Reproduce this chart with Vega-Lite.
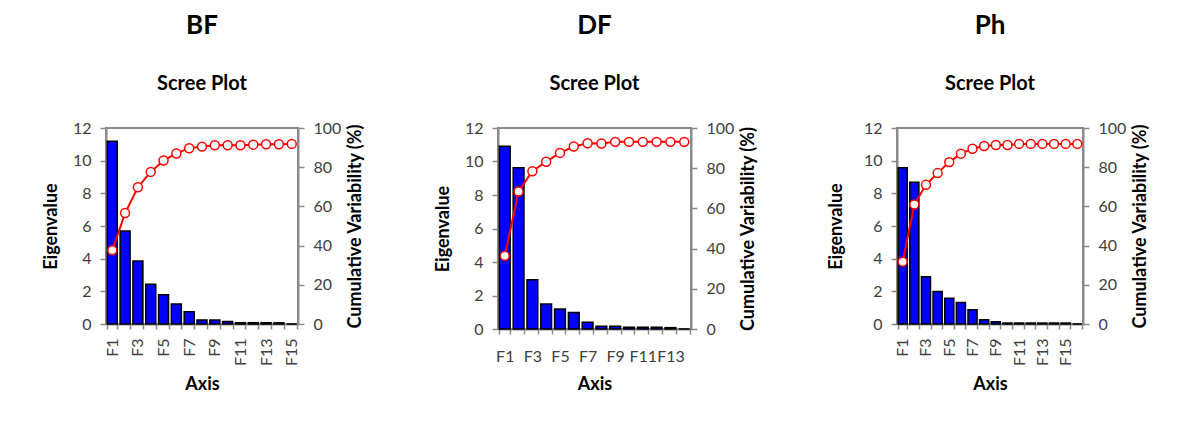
{
  "$schema": "https://vega.github.io/schema/vega-lite/v6.json",
  "background": "white",
  "padding": {"left": 41, "top": 12, "right": 5, "bottom": 5},
  "spacing": 67,
  "hconcat": [
    {
      "title": {"text": "BF", "subtitle": "Scree Plot"},
      "width": 192,
      "height": 196,
      "data": {"values": [
        {"axis": "F1", "eigenvalue": 11.19, "cumulative": 37.6},
        {"axis": "F2", "eigenvalue": 5.69, "cumulative": 56.6},
        {"axis": "F3", "eigenvalue": 3.86, "cumulative": 69.8},
        {"axis": "F4", "eigenvalue": 2.44, "cumulative": 77.6},
        {"axis": "F5", "eigenvalue": 1.79, "cumulative": 83.4},
        {"axis": "F6", "eigenvalue": 1.22, "cumulative": 87.0},
        {"axis": "F7", "eigenvalue": 0.75, "cumulative": 89.7},
        {"axis": "F8", "eigenvalue": 0.24, "cumulative": 90.5},
        {"axis": "F9", "eigenvalue": 0.24, "cumulative": 91.2},
        {"axis": "F10", "eigenvalue": 0.16, "cumulative": 91.2},
        {"axis": "F11", "eigenvalue": 0.08, "cumulative": 91.2},
        {"axis": "F12", "eigenvalue": 0.08, "cumulative": 91.5},
        {"axis": "F13", "eigenvalue": 0.08, "cumulative": 91.7},
        {"axis": "F14", "eigenvalue": 0.07, "cumulative": 91.7},
        {"axis": "F15", "eigenvalue": 0.0, "cumulative": 91.9}
      ]},
      "layer": [
        {
          "mark": {"type": "bar", "fill": "#0000FF", "stroke": "#000000", "strokeWidth": 1.5},
          "encoding": {
            "x": {"field": "axis", "type": "ordinal", "sort": null, "scale": {"paddingInner": 0.22, "paddingOuter": 0.1},
                  "axis": {"title": "Axis", "labelAngle": -90, "labelAlign": "right", "labelBaseline": "middle", "labelPadding": 9, "titlePadding": 10,
                           "labelExpr": "indexof(['F1','F3','F5','F7','F9','F11','F13','F15'], datum.value) >= 0 ? datum.value : ''"}},
            "y": {"field": "eigenvalue", "type": "quantitative", "scale": {"domain": [0, 12]},
                  "axis": {"title": "Eigenvalue", "values": [0, 2, 4, 6, 8, 10, 12]}}
          }
        },
        {
          "mark": {"type": "line", "color": "#FF0000", "strokeWidth": 2,
                   "point": {"filled": false, "fill": "white", "stroke": "#FF0000", "strokeWidth": 1.5, "size": 80}},
          "encoding": {
            "x": {"field": "axis", "type": "ordinal", "sort": null},
            "y": {"field": "cumulative", "type": "quantitative", "scale": {"domain": [0, 100]},
                  "axis": {"orient": "right", "title": "Cumulative Variability (%)", "titleAngle": 270, "titlePadding": 24, "values": [0, 20, 40, 60, 80, 100]}}
          }
        }
      ],
      "resolve": {"scale": {"y": "independent"}}
    },
    {
      "title": {"text": "DF", "subtitle": "Scree Plot"},
      "width": 193,
      "height": 201,
      "data": {"values": [
        {"axis": "F1", "eigenvalue": 10.91, "cumulative": 36.4},
        {"axis": "F2", "eigenvalue": 9.62, "cumulative": 68.4},
        {"axis": "F3", "eigenvalue": 2.94, "cumulative": 78.5},
        {"axis": "F4", "eigenvalue": 1.49, "cumulative": 83.2},
        {"axis": "F5", "eigenvalue": 1.19, "cumulative": 87.6},
        {"axis": "F6", "eigenvalue": 0.99, "cumulative": 90.8},
        {"axis": "F7", "eigenvalue": 0.40, "cumulative": 92.4},
        {"axis": "F8", "eigenvalue": 0.16, "cumulative": 92.3},
        {"axis": "F9", "eigenvalue": 0.16, "cumulative": 93.1},
        {"axis": "F10", "eigenvalue": 0.1, "cumulative": 93.1},
        {"axis": "F11", "eigenvalue": 0.1, "cumulative": 93.1},
        {"axis": "F12", "eigenvalue": 0.1, "cumulative": 93.1},
        {"axis": "F13", "eigenvalue": 0.08, "cumulative": 93.1},
        {"axis": "F14", "eigenvalue": 0.0, "cumulative": 93.1}
      ]},
      "layer": [
        {
          "mark": {"type": "bar", "fill": "#0000FF", "stroke": "#000000", "strokeWidth": 1.5},
          "encoding": {
            "x": {"field": "axis", "type": "ordinal", "sort": null, "scale": {"paddingInner": 0.22, "paddingOuter": 0.1},
                  "axis": {"title": "Axis", "labelAngle": 0, "labelAlign": "center", "labelBaseline": "top", "labelPadding": 14, "titlePadding": 11,
                           "labelExpr": "indexof(['F1','F3','F5','F7','F9','F11','F13'], datum.value) >= 0 ? datum.value : ''"}},
            "y": {"field": "eigenvalue", "type": "quantitative", "scale": {"domain": [0, 12]},
                  "axis": {"title": "Eigenvalue", "values": [0, 2, 4, 6, 8, 10, 12]}}
          }
        },
        {
          "mark": {"type": "line", "color": "#FF0000", "strokeWidth": 2,
                   "point": {"filled": false, "fill": "white", "stroke": "#FF0000", "strokeWidth": 1.5, "size": 80}},
          "encoding": {
            "x": {"field": "axis", "type": "ordinal", "sort": null},
            "y": {"field": "cumulative", "type": "quantitative", "scale": {"domain": [0, 100]},
                  "axis": {"orient": "right", "title": "Cumulative Variability (%)", "titleAngle": 270, "titlePadding": 24, "values": [0, 20, 40, 60, 80, 100]}}
          }
        }
      ],
      "resolve": {"scale": {"y": "independent"}}
    },
    {
      "title": {"text": "Ph", "subtitle": "Scree Plot"},
      "width": 186,
      "height": 196,
      "data": {"values": [
        {"axis": "F1", "eigenvalue": 9.56, "cumulative": 31.8},
        {"axis": "F2", "eigenvalue": 8.68, "cumulative": 61.0},
        {"axis": "F3", "eigenvalue": 2.89, "cumulative": 71.0},
        {"axis": "F4", "eigenvalue": 1.99, "cumulative": 77.0},
        {"axis": "F5", "eigenvalue": 1.57, "cumulative": 82.6},
        {"axis": "F6", "eigenvalue": 1.32, "cumulative": 86.9},
        {"axis": "F7", "eigenvalue": 0.87, "cumulative": 89.4},
        {"axis": "F8", "eigenvalue": 0.26, "cumulative": 90.8},
        {"axis": "F9", "eigenvalue": 0.14, "cumulative": 91.3},
        {"axis": "F10", "eigenvalue": 0.06, "cumulative": 91.3},
        {"axis": "F11", "eigenvalue": 0.06, "cumulative": 91.9},
        {"axis": "F12", "eigenvalue": 0.06, "cumulative": 91.9},
        {"axis": "F13", "eigenvalue": 0.06, "cumulative": 91.9},
        {"axis": "F14", "eigenvalue": 0.06, "cumulative": 91.9},
        {"axis": "F15", "eigenvalue": 0.06, "cumulative": 91.9},
        {"axis": "F16", "eigenvalue": 0.0, "cumulative": 91.9}
      ]},
      "layer": [
        {
          "mark": {"type": "bar", "fill": "#0000FF", "stroke": "#000000", "strokeWidth": 1.5},
          "encoding": {
            "x": {"field": "axis", "type": "ordinal", "sort": null, "scale": {"paddingInner": 0.22, "paddingOuter": 0.1},
                  "axis": {"title": "Axis", "labelAngle": -90, "labelAlign": "right", "labelBaseline": "middle", "labelPadding": 9, "titlePadding": 10,
                           "labelExpr": "indexof(['F1','F3','F5','F7','F9','F11','F13','F15'], datum.value) >= 0 ? datum.value : ''"}},
            "y": {"field": "eigenvalue", "type": "quantitative", "scale": {"domain": [0, 12]},
                  "axis": {"title": "Eigenvalue", "titlePadding": 18, "values": [0, 2, 4, 6, 8, 10, 12]}}
          }
        },
        {
          "mark": {"type": "line", "color": "#FF0000", "strokeWidth": 2,
                   "point": {"filled": false, "fill": "white", "stroke": "#FF0000", "strokeWidth": 1.5, "size": 80}},
          "encoding": {
            "x": {"field": "axis", "type": "ordinal", "sort": null},
            "y": {"field": "cumulative", "type": "quantitative", "scale": {"domain": [0, 100]},
                  "axis": {"orient": "right", "title": "Cumulative Variability (%)", "titleAngle": 270, "titlePadding": 24, "values": [0, 20, 40, 60, 80, 100]}}
          }
        }
      ],
      "resolve": {"scale": {"y": "independent"}}
    }
  ],
  "config": {
    "font": "Lato",
    "view": {"stroke": "#8a8a8a", "strokeWidth": 2},
    "title": {"fontSize": 26, "fontWeight": "bold", "color": "#000000", "subtitleFontSize": 20, "subtitleFontWeight": "bold", "subtitleColor": "#000000", "subtitlePadding": 35, "offset": 26, "anchor": "middle", "frame": "group"},
    "axis": {
      "grid": false,
      "domainColor": "#8a8a8a", "domainWidth": 2,
      "tickColor": "#8a8a8a", "tickWidth": 1.5, "tickSize": 6,
      "labelFontSize": 16, "labelColor": "#404040", "labelPadding": 9,
      "titleFontSize": 18, "titleFontWeight": "bold", "titleColor": "#000000", "titlePadding": 12
    },
    "axisX": {"tickBand": "extent", "tickSize": 5}
  }
}
